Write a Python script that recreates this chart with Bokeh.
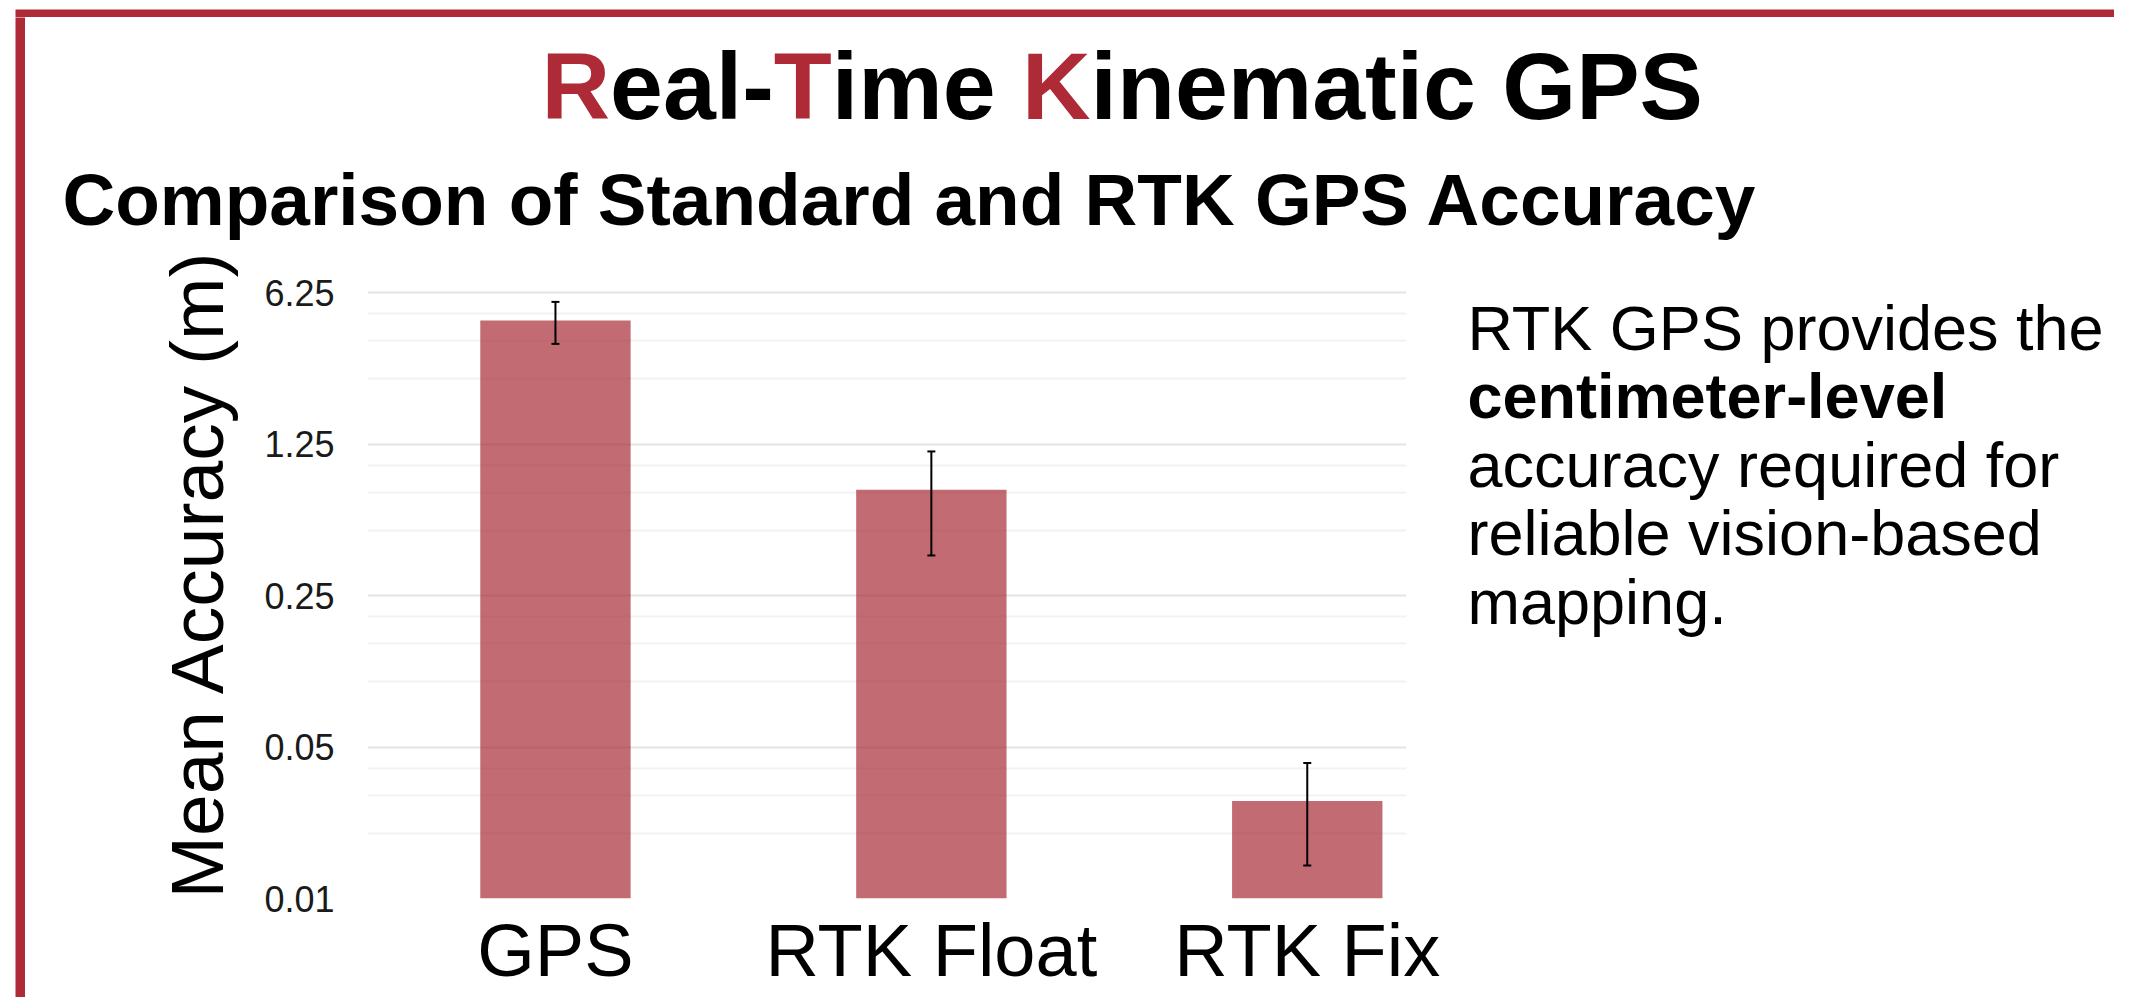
from bokeh.plotting import figure
from bokeh.layouts import column, row
from bokeh.models import (ColumnDataSource, Range1d, FixedTicker, Whisker, TeeHead, Label, Spacer)
from bokeh.embed import file_html
from bokeh.resources import INLINE

# ---- data ----
categories = ["GPS", "RTK Float", "RTK Fix"]
mean_accuracy = [4.65, 0.77, 0.0282]
sd_accuracy = [1.02, 0.387, 0.014]
y_major_ticks = [0.01, 0.05, 0.25, 1.25, 6.25]
y_tick_labels = ["0.01", "0.05", "0.25", "1.25", "6.25"]
y_minor_ticks = [0.02, 0.03, 0.04, 0.1, 0.15, 0.2, 0.5, 0.75, 1.0, 2.5, 3.75, 5.0, 10.0]
y_min, y_max = 0.01, 10.0

title_parts = [("R", True), ("eal-", False), ("T", True), ("ime ", False),
               ("K", True), ("inematic GPS", False)]
subtitle = "Comparison of Standard and RTK GPS Accuracy"
side_lines = [("RTK GPS provides the", "normal"), ("centimeter-level", "bold"),
              ("accuracy required for", "normal"), ("reliable vision-based", "normal"),
              ("mapping.", "normal")]
y_label = "Mean Accuracy (m)"

RED = "#ae2a36"
BAR = "#a82c36"
FONT = "Liberation Sans"

# page geometry (pixels from the page's top-left)
W = 2114
BAR_X0, BAR_T = 15, 10          # left edge of the red frame, its thickness
TOP_Y0 = 7                      # top edge of the red frame
HEAD_Y1 = 240                   # bottom of header strip
PAGE_Y1 = 997
INNER_X0 = BAR_X0 + BAR_T       # 25
HEAD_Y0 = TOP_Y0 + BAR_T        # 17
CHART_X1 = 1466
FL, FR, FT, FB = 367, 1406, 248, 898   # chart frame


def red_block(width, height):
    f = figure(width=width, height=height, output_backend="svg", toolbar_location=None,
               x_axis_location=None, y_axis_location=None, min_border=0,
               min_border_left=0, min_border_right=0, min_border_top=0, min_border_bottom=0)
    f.outline_line_color = None
    f.grid.visible = False
    f.background_fill_color = RED
    f.border_fill_color = RED
    return f


def text_fig(width, height, x0, x1, y0, y1, **borders):
    f = figure(width=width, height=height, output_backend="svg", toolbar_location=None,
               x_range=Range1d(x0, x1), y_range=Range1d(y1, y0),
               x_axis_location=None, y_axis_location=None, min_border=0,
               min_border_left=borders.get("left", 0), min_border_right=borders.get("right", 0),
               min_border_top=borders.get("top", 0), min_border_bottom=borders.get("bottom", 0))
    f.outline_line_color = None
    f.grid.visible = False
    f.background_fill_color = "white"
    f.border_fill_color = "white"
    return f


def add_text(f, x, baseline, text, size, style="normal", color="black"):
    # Bokeh centres the text box on y: shift so the alphabetic baseline lands on `baseline`
    f.add_layout(Label(x=x, y=baseline - 0.346 * size, text=text, text_font=FONT,
                       text_font_size=f"{size}px", text_font_style=style,
                       text_color=color, text_baseline="alphabetic", text_align="left"))


# ---- header ----
head = text_fig(W - INNER_X0, HEAD_Y1 - HEAD_Y0, INNER_X0, W, HEAD_Y0, HEAD_Y1)
ADV_B = {"R": 722, "e": 556, "a": 556, "l": 278, "-": 333, "T": 611, "i": 278, "m": 889,
         " ": 278, "K": 722, "n": 611, "t": 333, "c": 556, "G": 778, "P": 667, "S": 667}
TSIZE = 95
tx = 541.0
for txt, red in title_parts:
    add_text(head, tx, 118, txt, TSIZE, "bold", RED if red else "black")
    tx += sum(ADV_B[ch] for ch in txt) / 1000 * TSIZE
add_text(head, 62, 224, subtitle, 73, "bold")

# ---- chart ----
xs = list(range(len(categories)))
src = ColumnDataSource(dict(
    x=xs, mean=mean_accuracy,
    upper=[m + s for m, s in zip(mean_accuracy, sd_accuracy)],
    lower=[m - s for m, s in zip(mean_accuracy, sd_accuracy)],
))

p = figure(width=CHART_X1 - INNER_X0, height=PAGE_Y1 - HEAD_Y1, output_backend="svg",
           toolbar_location=None,
           x_range=Range1d(-0.5, 2.264), y_range=Range1d(y_min, y_max),
           y_axis_type="log",
           min_border_left=FL - INNER_X0, min_border_right=CHART_X1 - FR,
           min_border_top=FT - HEAD_Y1, min_border_bottom=PAGE_Y1 - FB)
p.outline_line_color = None
p.background_fill_color = "white"
p.border_fill_color = "white"

p.vbar(x="x", top="mean", bottom=y_min, width=0.4, source=src,
       fill_color=BAR, fill_alpha=0.7, line_color=None)

p.add_layout(Whisker(base="x", upper="upper", lower="lower", source=src,
                     line_color="black", line_width=2, level="overlay",
                     upper_head=TeeHead(size=8, line_color="black", line_width=2),
                     lower_head=TeeHead(size=8, line_color="black", line_width=2)))

p.xaxis.ticker = FixedTicker(ticks=xs)
p.xaxis.major_label_overrides = {i: c for i, c in zip(xs, categories)}
p.xaxis.major_label_text_font = FONT
p.xaxis.major_label_text_font_size = "74px"
p.xaxis.major_label_text_color = "black"
p.xaxis.major_label_standoff = 10
p.xaxis.major_tick_out = 0
p.xaxis.major_tick_in = 0
p.xaxis.minor_tick_out = 0
p.xaxis.axis_line_color = None
p.xaxis.major_tick_line_color = None
p.xaxis.minor_tick_line_color = None
p.xgrid.grid_line_color = None

p.yaxis.ticker = FixedTicker(ticks=y_major_ticks, minor_ticks=y_minor_ticks)
p.yaxis.major_label_overrides = {t: l for t, l in zip(y_major_ticks, y_tick_labels)}
p.yaxis.major_label_text_font = FONT
p.yaxis.major_label_text_font_size = "36px"
p.yaxis.major_label_text_color = "#1a1a1a"
p.yaxis.major_label_standoff = 33
p.yaxis.major_tick_out = 0
p.yaxis.major_tick_in = 0
p.yaxis.minor_tick_out = 0
p.yaxis.axis_line_color = None
p.yaxis.major_tick_line_color = None
p.yaxis.minor_tick_line_color = None
p.yaxis.axis_label = y_label
p.yaxis.axis_label_text_font = FONT
p.yaxis.axis_label_text_font_size = "75px"
p.yaxis.axis_label_text_font_style = "normal"
p.yaxis.axis_label_text_color = "black"
p.yaxis.axis_label_standoff = 22
p.ygrid.grid_line_color = "#e4e4e4"
p.ygrid.grid_line_width = 2
p.ygrid.minor_grid_line_color = "#f2f2f2"
p.ygrid.minor_grid_line_width = 2

# ---- side text (frame aligned with the chart frame) ----
side = text_fig(W - CHART_X1, PAGE_Y1 - HEAD_Y1, CHART_X1, W, FT, FB,
                top=FT - HEAD_Y1, bottom=PAGE_Y1 - FB)
for i, (line, style) in enumerate(side_lines):
    add_text(side, 1467, 349 + i * 68.5, line, 63, style)

# ---- assemble ----
top_bar = red_block(W - BAR_X0, BAR_T)
left_bar = red_block(BAR_T, PAGE_Y1 - HEAD_Y0)

layout = column(
    Spacer(height=TOP_Y0),
    row(Spacer(width=BAR_X0), top_bar),
    row(Spacer(width=BAR_X0), left_bar, column(head, row(p, side))),
)
open("out.html", "w").write(file_html(layout, INLINE))
